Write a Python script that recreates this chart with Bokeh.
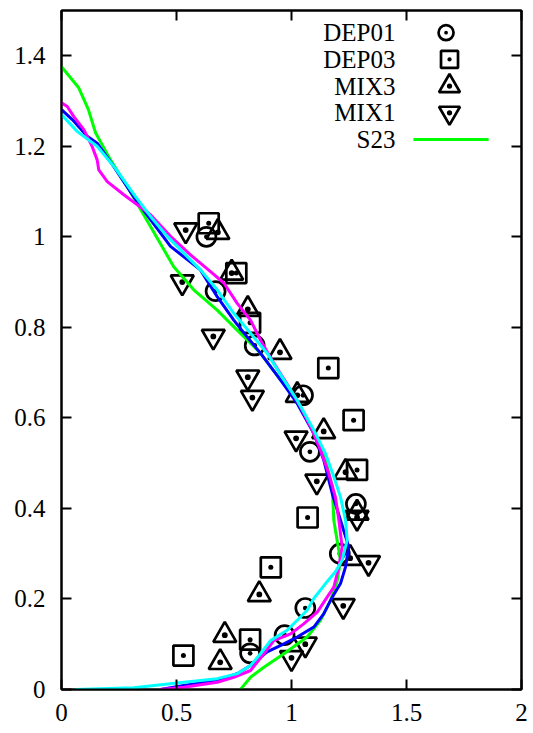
from bokeh.plotting import figure
from bokeh.models import Range1d, FixedTicker, LinearAxis
from bokeh.core.properties import value
from bokeh.embed import file_html
from bokeh.resources import INLINE

# ---------------- data ----------------
dep01_x = [0.63, 0.67, 0.84, 1.05, 1.08, 1.28, 1.21, 1.06, 0.97, 0.82]
dep01_y = [1.00, 0.88, 0.76, 0.65, 0.525, 0.41, 0.30, 0.18, 0.12, 0.08]

dep03_x = [0.64, 0.76, 0.82, 1.16, 1.27, 1.285, 1.07, 0.91, 0.82, 0.53]
dep03_y = [1.03, 0.92, 0.81, 0.71, 0.595, 0.485, 0.38, 0.27, 0.11, 0.075]

mix3_x = [0.68, 0.74, 0.81, 0.95, 1.025, 1.14, 1.235, 1.285, 1.255, 0.86, 0.71, 0.69]
mix3_y = [1.01, 0.92, 0.84, 0.745, 0.65, 0.57, 0.48, 0.39, 0.29, 0.21, 0.12, 0.06]

mix1_x = [0.54, 0.525, 0.66, 0.81, 0.83, 1.02, 1.11, 1.285, 1.335, 1.225, 1.06, 1.00]
mix1_y = [1.015, 0.90, 0.78, 0.69, 0.645, 0.555, 0.46, 0.38, 0.28, 0.185, 0.10, 0.07]

s23_x = [0.0, 0.074, 0.117, 0.148, 0.213, 0.286, 0.387, 0.488, 0.575, 0.677, 0.764,
         0.865, 0.952, 0.996, 1.083, 1.148, 1.177, 1.184, 1.191, 1.213, 1.199, 1.170,
         1.126, 1.068, 0.967, 0.880, 0.822, 0.778]
s23_y = [1.376, 1.330, 1.281, 1.230, 1.170, 1.111, 1.023, 0.934, 0.883, 0.838, 0.794,
         0.743, 0.684, 0.662, 0.580, 0.507, 0.448, 0.374, 0.352, 0.285, 0.241, 0.197,
         0.153, 0.116, 0.079, 0.049, 0.027, 0.0]

blue_x = [0.0, 0.047, 0.112, 0.155, 0.226, 0.313, 0.387, 0.474, 0.604, 0.677, 0.749,
          0.807, 0.865, 0.952, 1.025, 1.097, 1.140, 1.177, 1.213, 1.249, 1.235, 1.213,
          1.177, 1.140, 1.097, 1.025, 0.967, 0.894, 0.822, 0.764, 0.677, 0.532, 0.430]
blue_y = [1.281, 1.259, 1.222, 1.207, 1.156, 1.089, 1.038, 0.979, 0.927, 0.868, 0.816,
          0.779, 0.743, 0.684, 0.632, 0.566, 0.507, 0.433, 0.374, 0.315, 0.271, 0.234,
          0.204, 0.167, 0.138, 0.116, 0.101, 0.083, 0.053, 0.035, 0.020, 0.009, 0.0]

magenta_x = [0.0, 0.025, 0.053, 0.097, 0.133, 0.155, 0.162, 0.199, 0.271, 0.387, 0.474,
             0.561, 0.648, 0.706, 0.764, 0.822, 0.865, 0.923, 0.988, 1.039, 1.090, 1.126,
             1.162, 1.191, 1.206, 1.220, 1.206, 1.184, 1.155, 1.112, 1.053, 0.996, 0.923,
             0.880, 0.822, 0.749, 0.677, 0.532, 0.430]
magenta_y = [1.296, 1.288, 1.266, 1.237, 1.200, 1.170, 1.148, 1.122, 1.093, 1.049, 1.001,
             0.960, 0.923, 0.898, 0.853, 0.816, 0.772, 0.721, 0.669, 0.625, 0.573, 0.529,
             0.477, 0.425, 0.374, 0.315, 0.271, 0.226, 0.204, 0.171, 0.145, 0.123, 0.108,
             0.079, 0.042, 0.027, 0.016, 0.005, 0.0]

cyan_x = [0.0, 0.068, 0.155, 0.227, 0.322, 0.387, 0.460, 0.532, 0.604, 0.677, 0.749,
          0.822, 0.894, 0.967, 1.025, 1.097, 1.148, 1.184, 1.213, 1.235, 1.242, 1.220,
          1.191, 1.148, 1.097, 1.068, 1.025, 0.981, 0.909, 0.865, 0.822, 0.764, 0.677,
          0.532, 0.314, 0.061]
cyan_y = [1.270, 1.233, 1.200, 1.156, 1.089, 1.045, 1.001, 0.964, 0.927, 0.883, 0.831,
          0.787, 0.743, 0.684, 0.639, 0.573, 0.521, 0.470, 0.425, 0.374, 0.330, 0.285,
          0.260, 0.234, 0.201, 0.175, 0.153, 0.131, 0.108, 0.079, 0.053, 0.035, 0.024,
          0.016, 0.004, 0.0]

x_ticks = [0, 0.5, 1, 1.5, 2]
x_tick_labels = ["0", "0.5", "1", "1.5", "2"]
y_ticks = [0, 0.2, 0.4, 0.6, 0.8, 1.0, 1.2, 1.4]
y_tick_labels = ["0", "0.2", "0.4", "0.6", "0.8", "1", "1.2", "1.4"]

legend_labels = ["DEP01", "DEP03", "MIX3", "MIX1", "S23"]

# ---------------- styling ----------------
FONT = "Liberation Serif"
FS = "25px"
GREEN = "#00ff00"
BLUE = "#0000ff"
MAGENTA = "#ff00ff"
CYAN = "#00ffff"

p = figure(width=533, height=733, output_backend="svg", toolbar_location=None,
           x_range=Range1d(0, 2), y_range=Range1d(0, 1.5),
           min_border_left=61, min_border_right=12, min_border_top=10, min_border_bottom=44,
           x_axis_location=None, y_axis_location=None)
p.background_fill_color = "white"
p.border_fill_color = "white"
p.grid.visible = False
p.outline_line_color = "black"
p.outline_line_width = 2


def style_axis(ax, ticks, labels, show_labels, standoff):
    ax.ticker = FixedTicker(ticks=ticks)
    if show_labels:
        ax.major_label_overrides = {t: l for t, l in zip(ticks, labels)}
    else:
        ax.major_label_overrides = {t: "" for t in ticks}
    ax.minor_tick_line_color = None
    ax.major_tick_in = 10
    ax.major_tick_out = 0
    ax.major_tick_line_width = 2
    ax.major_tick_line_color = "black"
    ax.axis_line_width = 2
    ax.axis_line_color = "black"
    ax.major_label_text_font = FONT
    ax.major_label_text_font_style = "normal"
    ax.major_label_text_color = "black"
    ax.major_label_text_font_size = FS
    ax.major_label_standoff = standoff


bottom = LinearAxis()
style_axis(bottom, x_ticks, x_tick_labels, True, 14)
p.add_layout(bottom, "below")
left = LinearAxis()
style_axis(left, y_ticks, y_tick_labels, True, 16)
p.add_layout(left, "left")
top = LinearAxis()
style_axis(top, x_ticks, x_tick_labels, False, 0)
p.add_layout(top, "above")
right = LinearAxis()
style_axis(right, y_ticks, y_tick_labels, False, 0)
p.add_layout(right, "right")

MW = 2.7
# markers
p.scatter(dep01_x, dep01_y, marker="circle_dot", size=19, fill_color=None,
          line_color="black", line_width=MW)
p.scatter(dep03_x, dep03_y, marker="square_dot", size=20, fill_color=None,
          line_color="black", line_width=MW)
p.scatter(mix3_x, mix3_y, marker="triangle_dot", size=23, fill_color=None,
          line_color="black", line_width=MW)
p.scatter(mix1_x, mix1_y, marker="inverted_triangle", size=23, fill_color=None,
          line_color="black", line_width=MW)
p.scatter(mix1_x, mix1_y, marker="dot", size=23, fill_color="black",
          line_color="black", line_width=MW)

# lines
LW = 3
p.line(s23_x, s23_y, line_color=GREEN, line_width=LW)
p.line(blue_x, blue_y, line_color=BLUE, line_width=LW)
p.line(magenta_x, magenta_y, line_color=MAGENTA, line_width=LW)
p.line(cyan_x, cyan_y, line_color=CYAN, line_width=LW)

# legend (gnuplot style: label then sample), positioned in data space
leg_text_x = 1.452
leg_sym_x = 1.687
leg_rows = [1.451, 1.392, 1.333, 1.274, 1.215]
p.text(x=[leg_text_x] * 5, y=leg_rows, text=legend_labels,
       text_font=value(FONT), text_font_size=value(FS), text_color="black",
       text_align="right", text_baseline="middle")
p.scatter([leg_sym_x - 0.015], [leg_rows[0]], marker="circle_dot", size=15, fill_color=None,
          line_color="black", line_width=MW)
p.scatter([leg_sym_x], [leg_rows[1]], marker="square_dot", size=17, fill_color=None,
          line_color="black", line_width=MW)
p.scatter([leg_sym_x], [leg_rows[2]], marker="triangle_dot", size=21, fill_color=None,
          line_color="black", line_width=MW)
p.scatter([leg_sym_x], [leg_rows[3]], marker="inverted_triangle", size=21, fill_color=None,
          line_color="black", line_width=MW)
p.scatter([leg_sym_x], [leg_rows[3]], marker="dot", size=21, fill_color="black",
          line_color="black", line_width=MW)
p.line([1.530, 1.857], [leg_rows[4], leg_rows[4]], line_color=GREEN, line_width=LW)

open("out.html", "w").write(file_html(p, INLINE))
